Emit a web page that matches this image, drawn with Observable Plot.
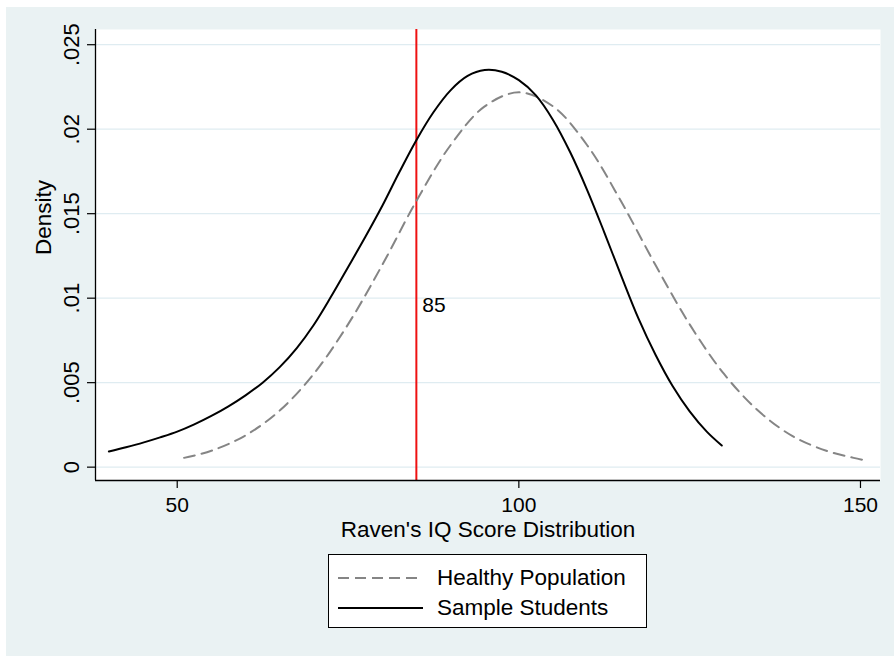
<!DOCTYPE html>
<html>
<head>
<meta charset="utf-8">
<script src="https://cdn.jsdelivr.net/npm/d3@7"></script>
<script src="https://cdn.jsdelivr.net/npm/@observablehq/plot@0.6"></script>
<style>
  html, body { margin: 0; padding: 0; background: #ffffff; }
  #bg { position: absolute; left: 6px; top: 7px; width: 888px; height: 649px; background: #eaf2f3;
        font-family: "Liberation Sans", Arial, Helvetica, sans-serif; overflow: hidden; }
  #chart { position: absolute; left: 0; top: 0; }
  #legend { position: absolute; left: 322px; top: 547px; width: 319px; height: 74px; box-sizing: border-box;
            background: #ffffff; border: 1.3px solid #000; }
  .item { position: absolute; left: 0; height: 30px; width: 100%; }
  .item svg { position: absolute; left: 9px; top: 0; }
  .item span { position: absolute; left: 108px; top: 2px; font-size: 22.5px; color: #000; line-height: 26px; white-space: nowrap; }
</style>
</head>
<body>
<div id="bg">
  <div id="chart"></div>
  <div id="legend"></div>
</div>
<script>
// ---- data ----
const healthyX = [51, 55, 60, 65, 70, 75, 80, 85, 90, 95, 100, 105, 110, 115, 120, 125, 130, 135, 140, 145, 149, 151];
const healthyY = [0.00055, 0.00097, 0.00188, 0.00335, 0.00553, 0.00845, 0.01196, 0.01575, 0.01905, 0.02135, 0.02218,
                  0.02135, 0.01905, 0.01570, 0.01196, 0.00845, 0.00553, 0.00335, 0.00185, 0.00097, 0.00055, 0.00038];

const sampleX = [40, 42.5, 45, 47.5, 50, 52.5, 55, 57.5, 60, 62.5, 65, 67.5, 70, 72.5, 75, 77.5, 80, 82.5, 85, 87.5,
                 90, 92.5, 95, 97.5, 100, 102.5, 105, 107.5, 110, 112.5, 115, 117.5, 120, 122.5, 125, 127.5, 129.7];
const sampleY = [0.00093, 0.00118, 0.00145, 0.00176, 0.00210, 0.00253, 0.00303, 0.00360, 0.00425, 0.00500, 0.00592,
                 0.00705, 0.00843, 0.01008, 0.01183, 0.01360, 0.01545, 0.01745, 0.01935, 0.02100, 0.02230, 0.02315,
                 0.02350, 0.02340, 0.02290, 0.02200, 0.02055, 0.01865, 0.01640, 0.01390, 0.01130, 0.00880, 0.00665,
                 0.00480, 0.00330, 0.00210, 0.00128];

const seriesNames = ["Healthy Population", "Sample Students"];
const xTicks = [50, 100, 150];
const yTicks = [0, 0.005, 0.01, 0.015, 0.02, 0.025];
const yTickLabels = ["0", ".005", ".01", ".015", ".02", ".025"];
const cutoff = [85];
const cutoffLabelY = [0.0096];
const xTitle = "Raven's IQ Score Distribution";
const yTitle = "Density";

// ---- build tables ----
const healthy = healthyX.map((x, i) => ({x, y: healthyY[i]}));
const sample = sampleX.map((x, i) => ({x, y: sampleY[i]}));
const cutoffData = cutoff.map((x, i) => ({x, y: cutoffLabelY[i], label: String(x)}));

const xDomain = [38.04, 152.93];
const yDomain = [-0.00079, 0.0259];

const chart = Plot.plot({
  width: 888,
  height: 545,
  marginLeft: 89,
  marginRight: 14,
  marginTop: 22,
  marginBottom: 72,
  style: {background: "transparent", fontFamily: "'Liberation Sans', Arial, Helvetica, sans-serif", color: "#000"},
  x: {domain: xDomain},
  y: {domain: yDomain},
  marks: [
    Plot.frame({fill: "#ffffff", stroke: "none"}),
    Plot.gridY(yTicks, {stroke: "#dfecf1", strokeOpacity: 1, strokeWidth: 1.2}),
    Plot.ruleX(cutoffData, {x: "x", stroke: "#ee1111", strokeWidth: 2}),
    Plot.line(healthy, {x: "x", y: "y", stroke: "#858585", strokeWidth: 2, strokeDasharray: "11,7", curve: "catmull-rom"}),
    Plot.line(sample, {x: "x", y: "y", stroke: "#000000", strokeWidth: 2, curve: "catmull-rom"}),
    Plot.text(cutoffData, {x: "x", y: "y", text: "label", textAnchor: "start", dx: 6, fontSize: 21, fill: "#000"}),
    Plot.ruleX([xDomain[0]], {stroke: "#000", strokeWidth: 1.3}),
    Plot.ruleY([yDomain[0]], {stroke: "#000", strokeWidth: 1.3}),
    Plot.axisX({ticks: xTicks, tickSize: 8, tickPadding: 9, fontSize: 21, label: null, stroke: "#000", strokeWidth: 1.2}),
    Plot.axisY({ticks: yTicks, tickFormat: d => yTickLabels[yTicks.indexOf(d)], tickRotate: -90, tickSize: 8, tickPadding: 9,
                fontSize: 22, label: null, stroke: "#000", strokeWidth: 1.2}),
    Plot.text([xTitle], {frameAnchor: "bottom", dy: 56, lineAnchor: "bottom", text: d => d, fontSize: 22.5, fill: "#000"}),
    Plot.text([yTitle], {frameAnchor: "left", dx: -60, rotate: -90, lineAnchor: "top", text: d => d, fontSize: 22.5, fill: "#000"})
  ]
});
document.getElementById("chart").appendChild(chart);

// ---- legend ----
const legend = document.getElementById("legend");
const styles = [
  {stroke: "#858585", dash: "11,6"},
  {stroke: "#000000", dash: null}
];
seriesNames.forEach((name, i) => {
  const item = document.createElement("div");
  item.className = "item";
  item.style.top = (8 + i * 30) + "px";
  const dash = styles[i].dash ? `stroke-dasharray="${styles[i].dash}"` : "";
  item.innerHTML = `<svg width="86" height="30"><line x1="0" x2="85" y1="15" y2="15" stroke="${styles[i].stroke}" stroke-width="2" ${dash}/></svg><span>${name}</span>`;
  legend.appendChild(item);
});
</script>
</body>
</html>
